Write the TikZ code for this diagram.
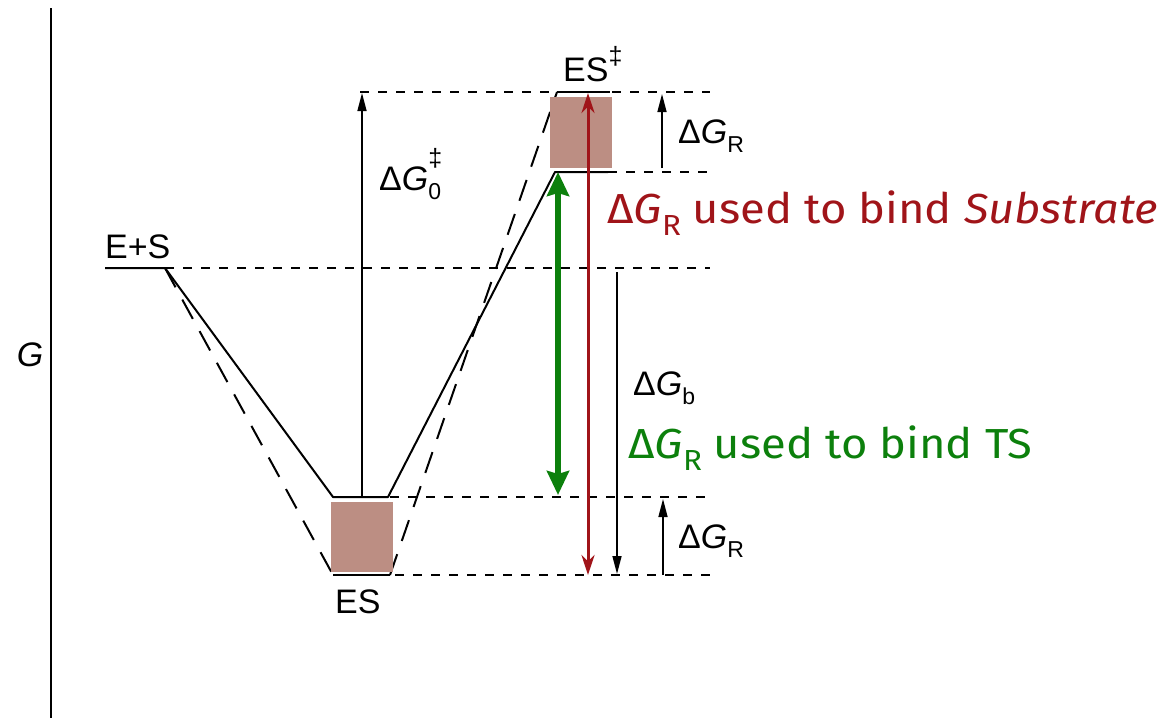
\documentclass[tikz,border=0pt]{standalone}
\usepackage{fontspec}
\setmainfont{Liberation Sans}
\newfontfamily\comicf{Fira Sans}
\usetikzlibrary{arrows.meta}
\definecolor{dred}{RGB}{160,20,25}
\definecolor{dgreen}{RGB}{12,128,12}
\definecolor{boxc}{RGB}{188,142,131}
\newcommand{\lsub}[1]{\raisebox{-0.28em}{\fontsize{23}{23}\selectfont #1}}
\newcommand{\csub}[1]{\raisebox{-0.3em}{\fontsize{29}{29}\selectfont #1}}
\begin{document}
\begin{tikzpicture}[x=1pt,y=-1pt,
  lvl/.style={line width=1.4pt, dash pattern=on 9pt off 9pt},
  curve/.style={line width=2pt},
  dcurve/.style={line width=2pt, dash pattern=on 22pt off 14pt},
  arr/.style={line width=1.5pt, -{Triangle[length=18pt,width=9pt]}},
  lab/.style={font=\fontsize{34}{36}\selectfont, inner sep=0pt, anchor=base west},
  clab/.style={font=\comicf\fontsize{42}{44}\selectfont, inner sep=0pt, anchor=base west},
  boxs/.style={fill=boxc, draw=none}]
\useasboundingbox (0,0) rectangle (1161,718);
% axis
\coordinate (axT) at (51,8);
\coordinate (axB) at (51,718);
\draw[line width=1.8pt] (axT) -- (axB);
\node[lab, anchor=center] (Glab) at (30,355) {\textit{G}};
% key points
\coordinate (ES0) at (105,268);
\coordinate (ES1) at (165,268);
\coordinate (EnzA) at (333,497);
\coordinate (EnzB) at (388,497);
\coordinate (EnzC) at (333,575);
\coordinate (EnzD) at (390,575);
\coordinate (TS1) at (555,172);
\coordinate (TS2) at (608,172);
\coordinate (TSt1) at (557,92);
\coordinate (TSt2) at (610,92);
% level lines
\coordinate (lvlES) at (710,268);
\coordinate (lvlTS) at (710,172);
\coordinate (topL) at (360,92);
\coordinate (lvlTop) at (710,92);
\coordinate (lvlAL) at (390,497);
\coordinate (lvlA) at (710,497);
\coordinate (lvlBL) at (395,575);
\coordinate (lvlB) at (710,575);
\draw[lvl] (ES1) -- (lvlES);
\draw[lvl] (TS2) -- (lvlTS);
\draw[lvl] (topL) -- (lvlTop);
\draw[lvl] (lvlAL) -- (lvlA);
\draw[lvl] (lvlBL) -- (lvlB);
% profiles
\draw[curve, line join=round] (ES0) -- (ES1) -- (EnzA) -- (EnzB) -- (TS1) -- (TS2);
\draw[dcurve] (ES1) -- (EnzC);
\draw[curve] (EnzC) -- (EnzD);
\draw[dcurve] (EnzD) -- (TSt1);
\draw[curve] (TSt1) -- (TSt2);
% boxes
\fill[boxs] (550,97) rectangle (612,168);
\fill[boxs] (331,502) rectangle (393,572);
% black arrows
\coordinate (g0b) at (362,497);
\coordinate (g0t) at (362,93);
\draw[arr] (g0b) -- (g0t);
\coordinate (grTb) at (662,168);
\coordinate (grTt) at (662,94);
\draw[arr] (grTb) -- (grTt);
\coordinate (grBb) at (663,575);
\coordinate (grBt) at (663,499);
\draw[arr] (grBb) -- (grBt);
\coordinate (gbT) at (617,272);
\coordinate (gbB) at (617,574);
\draw[arr] (gbT) -- (gbB);
% red arrow
\coordinate (rT) at (588,93);
\coordinate (rB) at (588,575);
\draw[dred, line width=3pt, {Stealth[length=20pt,width=13pt]}-{Stealth[length=20pt,width=13pt]}] (rB) -- (rT);
% green arrow
\coordinate (gT) at (558,172);
\coordinate (gB) at (558,495);
\draw[dgreen, line width=6pt, {Stealth[length=24pt,width=22pt,inset=3pt]}-{Stealth[length=24pt,width=22pt,inset=3pt]}] (gB) -- (gT);
% labels
\node[lab] (ESlab) at (105,258) {E+S};
\node[lab] (TSlab) at (563,81) {ES\raisebox{0.5em}{\fontsize{25}{25}\selectfont ‡}};
\node[lab] (ESc) at (335,613) {ES};
\node[lab] (dG0) at (379,190) {Δ\textit{G}\makebox[0pt][l]{\raisebox{0.7em}{\fontsize{25}{25}\selectfont ‡}}\lsub{0}};
\node[lab] (dGRt) at (678,143) {Δ\textit{G}\lsub{R}};
\node[lab] (dGRb) at (678,548) {Δ\textit{G}\lsub{R}};
\node[lab] (dGb) at (633,395) {Δ\textit{G}\lsub{b}};
\node[clab, text=dred] (redtxt) at (607,223) {\scalebox{1.08}[1]{Δ\textit{G}\csub{R} used to bind \textit{Substrate}}};
\node[clab, text=dgreen] (greentxt) at (628,458) {\scalebox{1.08}[1]{Δ\textit{G}\csub{R} used to bind TS}};
\end{tikzpicture}
\end{document}
